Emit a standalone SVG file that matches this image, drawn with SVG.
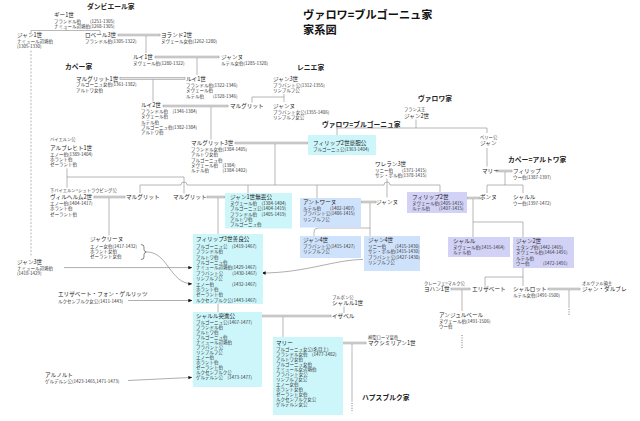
<svg xmlns="http://www.w3.org/2000/svg" width="640" height="421" viewBox="0 0 640 421">
<style>
text{font-family:"Noto Sans CJK JP","Noto Sans CJK SC",sans-serif;fill:#222}
.t{font-size:11.2px;font-weight:bold;fill:#111}
.h{font-size:6.8px;font-weight:bold;fill:#222}
.n{font-size:5.6px;fill:#1a1a1a}
.d{font-size:4.5px;fill:#333}
.s{font-size:4.3px;fill:#333}
.ln{fill:none;stroke:#888;stroke-width:0.6}
.dash{fill:none;stroke:#888;stroke-width:0.6;stroke-dasharray:2,1.5}
.dot{fill:none;stroke:#555;stroke-width:0.8;stroke-dasharray:1,1.4}
.dl{fill:#e4e4e4;stroke:#9a9a9a;stroke-width:0.6}
.ar{fill:none;stroke:#777;stroke-width:0.6;marker-end:url(#arr)}
.br{fill:none;stroke:#333;stroke-width:0.6}
.cy{fill:#ccf6fa}
.bl{fill:#cfe2fb}
.lv{fill:#d2d2f6}
</style>
<defs>
<marker id="arr" viewBox="0 0 6 6" refX="5.5" refY="3" markerWidth="4" markerHeight="4" markerUnits="userSpaceOnUse" orient="auto"><path d="M0,0.5 L6,3 L0,5.5z" fill="#111"/></marker>
</defs>
<rect width="640" height="421" fill="#fff"/>

<g id="title">
<text class="t" x="303" y="18.6">ヴァロワ=ブルゴーニュ家</text>
<text class="t" x="303" y="34">家系図</text>
</g>

<g id="houses">
<text class="h" x="87" y="8.6">ダンビエール家</text>
<text class="h" x="65" y="68.6">カペー家</text>
<text class="h" x="297" y="69.6">レニエ家</text>
<text class="h" x="418" y="100.6">ヴァロワ家</text>
<text class="h" x="322" y="126.6">ヴァロワ=ブルゴーニュ家</text>
<text class="h" x="508" y="161.6">カペー=アルトワ家</text>
<text class="h" x="362" y="399.6">ハプスブルク家</text>
</g>

<g id="connectors">
<rect class="dl" x="118" y="34.1" width="42" height="1.8"/>
<rect class="dl" x="155" y="56.1" width="64" height="1.8"/>
<rect class="dl" x="120" y="77.6" width="65" height="1.8"/>
<rect class="dl" x="163" y="105.1" width="65" height="1.8"/>
<rect class="dl" x="235" y="142.1" width="73" height="1.8"/>
<rect class="dl" x="94" y="196.1" width="31" height="1.8"/>
<rect class="dl" x="207" y="196.1" width="18" height="1.8"/>
<rect class="dl" x="361" y="201.1" width="15" height="1.8"/>
<rect class="dl" x="467" y="197.1" width="13" height="1.8"/>
<rect class="dl" x="496" y="170.1" width="16" height="1.8"/>
<rect class="dl" x="451" y="288.1" width="19" height="1.8"/>
<rect class="dl" x="548" y="288.1" width="32" height="1.8"/>
<rect class="dl" x="238" y="315.1" width="93" height="1.8"/>
<rect class="dl" x="295" y="342.1" width="71" height="1.8"/>
<path class="ln" d="M66,28.5 V30.5 M31,34 V30.5 H100 V34"/>
<path class="dash" d="M31,50.5 V257"/>
<path class="ln" d="M146,36 V53"/>
<path class="ln" d="M197,58 V75"/>
<path class="ln" d="M153,79.5 V101.5"/>
<path class="ln" d="M211,107 V139.5"/>
<path class="ln" d="M284,94 V102 M252,102.5 V97 H284"/>
<path class="ln" d="M416,119.5 V128 M337,135 V128 H487 V133"/>
<path class="ln" d="M275,144 V185"/>
<path class="ln" d="M140,193 V185 H181 a3,3 0 0 1 6,0 H384 a3,3 0 0 1 6,0 H440 V192"/>
<path class="ln" d="M248,185 V193 M317,185 V198"/>
<path class="ln" d="M67,168.5 V187.5 M67,177 H184 V193.5"/>
<path class="ln" d="M109,198 V235.5"/>
<path class="ln" d="M218,198 V234"/>
<path class="ln" d="M387,178.5 V197.5"/>
<path class="ln" d="M370,203 V236 M370,228 H318 Q314,228 314,232 V236"/>
<path class="ln" d="M473,199 V237 M473,222 H523 V237"/>
<path class="ln" d="M487,148 V166.5"/>
<path class="ln" d="M505,172 V185 M487,193 V185 H523 V193"/>
<path class="ln" d="M523,268 V277 H485 V286 M523,277 V286"/>
<path class="ln" d="M462,290 V311"/>
<path class="ln" d="M569,290 V308"/>
<path class="ln" d="M218,304 V312"/>
<path class="ln" d="M283,317 V337"/>
<path class="ln" d="M344,306.5 V313"/>
<path class="ln" d="M352,344 V402"/>
<path class="dot" d="M462,335 V349 M569,309 V316 M352,403 V411"/>
<path class="ar" d="M64,267.6 H192"/>
<path class="ar" d="M147,252 C168,252 170,283.8 192,283.8"/>
<path class="ar" d="M363,259.5 C335,259.5 305,273 262,273"/>
<path class="ar" d="M128,300.5 H192"/>
<path class="ar" d="M128,380.5 L192,377.4"/>
<path class="br" d="M141,244.5 q3,0 3,2.5 v2.5 q0,2 2.5,2.5 q-2.5,0.5 -2.5,2.5 v2.5 q0,2.5 -3,2.5"/>
<path class="br" d="M368,253 q-2,0 -2,2 v2.5 q0,1.5 -2,2 q2,0.5 2,2 v2.5 q0,2 2,2"/>
</g>

<g id="guy1">
<text class="n" x="54" y="17.1">ギー1世</text>
<text class="d" x="54" y="22.7">フランドル伯　　(1251-1305)</text>
<text class="d" x="54" y="27.9">ナミュール辺境伯(1268-1305)</text>
</g>
<g id="jean1-namur">
<text class="n" x="17" y="37.1">ジャン1世</text>
<text class="d" x="17" y="42.9">ナミュール辺境伯</text>
<text class="d" x="17" y="48.2">(1305-1330)</text>
</g>
<g id="robert3">
<text class="n" x="85" y="37.1">ロベール3世</text>
<text class="d" x="85" y="43.1">フランドル伯(1305-1322)</text>
</g>
<g id="yolande2">
<text class="n" x="161" y="37.1">ヨランド2世</text>
<text class="d" x="161" y="43.1">ヌヴェール女伯(1262-1280)</text>
</g>
<g id="louis1-nevers">
<text class="n" x="133" y="59.1">ルイ1世</text>
<text class="d" x="133" y="65">ヌヴェール伯(1280-1322)</text>
</g>
<g id="jeanne-rethel">
<text class="n" x="221" y="59.1">ジャンヌ</text>
<text class="d" x="221" y="65">ルテル女伯(1285-1328)</text>
</g>
<g id="louis1-flandre">
<text class="n" x="186" y="81.1">ルイ1世</text>
<text class="d" x="186" y="87">フランドル伯(1322-1346)</text>
<text class="d" x="186" y="92.3">ヌヴェール伯</text>
<text class="d" x="186" y="97.6">ルテル伯　　(1328-1346)</text>
</g>
<g id="marguerite1">
<text class="n" x="76" y="80.6">マルグリット1世</text>
<text class="d" x="76" y="86.4">ブルゴーニュ女伯(1361-1382)</text>
<text class="d" x="76" y="91.7">アルトワ女伯</text>
</g>
<g id="louis2">
<text class="n" x="141" y="107.1">ルイ2世</text>
<text class="d" x="141" y="112.9">フランドル伯　(1346-1384)</text>
<text class="d" x="141" y="118.2">ヌヴェール伯</text>
<text class="d" x="141" y="123.5">ルテル伯</text>
<text class="d" x="141" y="128.8">ブルゴーニュ伯(1382-1384)</text>
<text class="d" x="141" y="134.1">アルトワ伯</text>
</g>
<g id="marguerite-brabant">
<text class="n" x="230" y="108.1">マルグリット</text>
</g>
<g id="jean3-brabant">
<text class="n" x="273" y="81.1">ジャン3世</text>
<text class="d" x="273" y="87">ブラバント公(1312-1355)</text>
<text class="d" x="273" y="92.3">リンブルフ公</text>
</g>
<g id="jeanne-brabant">
<text class="n" x="273" y="108.1">ジャンヌ</text>
<text class="d" x="273" y="114">ブラバント女公(1355-1406)</text>
<text class="d" x="273" y="119.3">リンブルフ女公</text>
</g>
<g id="jean2-france">
<text class="s" x="404" y="110.6">フランス王</text>
<text class="n" x="404" y="118.1">ジャン2世</text>
</g>
<g id="philippe2">
<rect class="cy" x="308" y="135" width="68" height="20"/>
<text class="n" x="313" y="145.1">フィリップ2世豪胆公</text>
<text class="d" x="313" y="151">ブルゴーニュ公(1363-1404)</text>
</g>
<g id="marguerite3">
<text class="n" x="191" y="145.1">マルグリット3世</text>
<text class="d" x="191" y="151">フランドル女伯(1384-1405)</text>
<text class="d" x="191" y="156.3">アルトワ女伯</text>
<text class="d" x="191" y="161.6">ブルゴーニュ伯</text>
<text class="d" x="191" y="166.9">ヌヴェール伯　(1384)</text>
<text class="d" x="191" y="172.2">ルテル伯　　　(1384-1402)</text>
</g>
<g id="jean-berry">
<text class="s" x="480" y="138.6">ベリー公</text>
<text class="n" x="480" y="145.1">ジャン</text>
</g>
<g id="marie-berry">
<text class="n" x="482" y="173.1">マリー</text>
</g>
<g id="philippe-eu">
<text class="n" x="513" y="173.1">フィリップ</text>
<text class="d" x="513" y="179">ウー伯(1387-1397)</text>
</g>
<g id="waleran3">
<text class="n" x="375" y="166.1">ワレラン3世</text>
<text class="d" x="375" y="171.9">リニー伯　　(1371-1415)</text>
<text class="d" x="375" y="177.2">サン・ポル伯(1378-1415)</text>
</g>
<g id="albrecht1">
<text class="s" x="50" y="140.6">バイエルン公</text>
<text class="n" x="50" y="149.6">アルブレヒト1世</text>
<text class="d" x="50" y="155.7">エノー伯(1389-1404)</text>
<text class="d" x="50" y="161">ホラント伯</text>
<text class="d" x="50" y="166.3">ゼーラント伯</text>
</g>
<g id="wilhelm2">
<text class="s" x="50" y="191.6">下バイエルン=シュトラウビング公</text>
<text class="n" x="50" y="199.1">ヴィルヘルム2世</text>
<text class="d" x="50" y="204.9">エノー伯(1404-1417)</text>
<text class="d" x="50" y="210.2">ホラント伯</text>
<text class="d" x="50" y="215.5">ゼーラント伯</text>
</g>
<g id="marguerite-bourgogne">
<text class="n" x="126" y="199.1">マルグリット</text>
</g>
<g id="marguerite-baviere">
<text class="n" x="173" y="199.1">マルグリット</text>
</g>
<g id="jean1">
<rect class="cy" x="225" y="193" width="67" height="35.5"/>
<text class="n" x="230" y="199.1">ジャン1世無畏公</text>
<text class="d" x="230" y="204.9">ヌヴェール伯　(1384-1404)</text>
<text class="d" x="230" y="210.2">ブルゴーニュ公(1404-1419)</text>
<text class="d" x="230" y="215.5">フランドル伯　(1405-1419)</text>
<text class="d" x="230" y="220.8">アルトワ伯</text>
<text class="d" x="230" y="226.1">ブルゴーニュ伯</text>
</g>
<g id="antoine">
<rect class="bl" x="300" y="198" width="61" height="29.5"/>
<text class="n" x="303" y="204.1">アントワーヌ</text>
<text class="d" x="303" y="209.9">ルテル伯　　(1402-1407)</text>
<text class="d" x="303" y="215.2">ブラバント公(1406-1415)</text>
<text class="d" x="303" y="220.5">リンブルフ公</text>
</g>
<g id="jeanne-lux">
<text class="n" x="376" y="204.1">ジャンヌ</text>
</g>
<g id="philippe2-nevers">
<rect class="lv" x="407" y="192" width="60" height="21"/>
<text class="n" x="412" y="199.1">フィリップ2世</text>
<text class="d" x="412" y="204.9">ヌヴェール伯(1405-1415)</text>
<text class="d" x="412" y="210.2">ルテル伯　　(1407-1415)</text>
</g>
<g id="bonne">
<text class="n" x="480" y="199.1">ボンヌ</text>
</g>
<g id="charles-eu">
<text class="n" x="513" y="199.1">シャルル</text>
<text class="d" x="513" y="205">ウー伯(1397-1472)</text>
</g>
<g id="jean4-a">
<rect class="bl" x="300" y="236" width="61" height="22"/>
<text class="n" x="303" y="242.1">ジャン4世</text>
<text class="d" x="303" y="247.9">ブラバント公(1415-1427)</text>
<text class="d" x="303" y="253.2">リンブルフ公</text>
</g>
<g id="jean4-b">
<rect class="bl" x="364" y="236" width="56" height="35"/>
<text class="n" x="368" y="242.1">ジャン4世</text>
<text class="d" x="368" y="247.9">リニー伯　　(1415-1430)</text>
<text class="d" x="368" y="253.2">サン・ポル伯(1415-1430)</text>
<text class="d" x="368" y="258.5">ブラバント公(1427-1430)</text>
<text class="d" x="368" y="263.8">リンブルフ公</text>
</g>
<g id="charles-nevers">
<rect class="lv" x="448" y="237" width="62" height="20"/>
<text class="n" x="453" y="243.1">シャルル</text>
<text class="d" x="453" y="249">ヌヴェール伯(1415-1464)</text>
<text class="d" x="453" y="254.3">ルテル伯</text>
</g>
<g id="jean2-nevers">
<rect class="lv" x="513" y="237" width="61" height="31"/>
<text class="n" x="516" y="243.1">ジャン2世</text>
<text class="d" x="516" y="249">エタンプ伯(1442-1465)</text>
<text class="d" x="516" y="254.3">ヌヴェール伯(1464-1491)</text>
<text class="d" x="516" y="259.6">ルテル伯</text>
<text class="d" x="516" y="264.9">ウー伯　　　(1472-1491)</text>
</g>
<g id="jacqueline">
<text class="n" x="90" y="241.1">ジャクリーヌ</text>
<text class="d" x="90" y="247.7">エノー女伯(1417-1432)</text>
<text class="d" x="90" y="253">ホラント女伯</text>
<text class="d" x="90" y="258.3">ゼーラント女伯</text>
</g>
<g id="jean3-namur">
<text class="n" x="17" y="264.1">ジャン3世</text>
<text class="d" x="17" y="269.9">ナミュール辺境伯</text>
<text class="d" x="17" y="275.2">(1418-1429)</text>
</g>
<g id="philippe3">
<rect class="cy" x="193" y="234" width="70" height="70"/>
<text class="n" x="196" y="241.1">フィリップ3世善良公</text>
<text class="d" x="196" y="247.7">ブルゴーニュ公　(1419-1467)</text>
<text class="d" x="196" y="253.1">フランドル伯</text>
<text class="d" x="196" y="258.5">アルトワ伯</text>
<text class="d" x="196" y="263.9">ブルゴーニュ伯</text>
<text class="d" x="196" y="269.3">ナミュール辺境伯(1429-1467)</text>
<text class="d" x="196" y="274.7">ブラバント公　　(1430-1467)</text>
<text class="d" x="196" y="280.1">リンブルフ公</text>
<text class="d" x="196" y="285.5">エノー伯　　　　(1432-1467)</text>
<text class="d" x="196" y="290.9">ホラント伯</text>
<text class="d" x="196" y="296.3">ゼーラント伯</text>
<text class="d" x="196" y="301.7">ルクセンブルク公(1443-1467)</text>
</g>
<g id="elisabeth-goerlitz">
<text class="n" x="58" y="296.1">エリザベート・フォン・ゲルリッツ</text>
<text class="d" x="58" y="302.5">ルクセンブルク女公(1411-1443)</text>
</g>
<g id="arnold">
<text class="n" x="45" y="377.1">アルノルト</text>
<text class="d" x="45" y="382.9">ゲルデルン公(1423-1465,1471-1473)</text>
</g>
<g id="charles-temeraire">
<rect class="cy" x="193" y="312" width="69" height="75"/>
<text class="n" x="196" y="318.1">シャルル突進公</text>
<text class="d" x="196" y="324">ブルゴーニュ公(1467-1477)</text>
<text class="d" x="196" y="329">フランドル伯</text>
<text class="d" x="196" y="334">アルトワ伯</text>
<text class="d" x="196" y="339">ブルゴーニュ伯</text>
<text class="d" x="196" y="344">ナミュール辺境伯</text>
<text class="d" x="196" y="349">ブラバント公</text>
<text class="d" x="196" y="354">リンブルフ公</text>
<text class="d" x="196" y="359">エノー伯</text>
<text class="d" x="196" y="364">ホラント伯</text>
<text class="d" x="196" y="369">ゼーラント伯</text>
<text class="d" x="196" y="374">ルクセンブルク公</text>
<text class="d" x="196" y="379">ゲルデルン公　(1473-1477)</text>
</g>
<g id="charles1-bourbon">
<text class="s" x="332" y="298.6">ブルボン公</text>
<text class="n" x="332" y="305.1">シャルル1世</text>
</g>
<g id="isabelle">
<text class="n" x="332" y="318.1">イザベル</text>
</g>
<g id="marie">
<rect class="cy" x="273" y="337" width="70" height="78"/>
<text class="n" x="276" y="344.6">マリー</text>
<text class="d" x="276" y="350.6">ブルゴーニュ女公(名目上)</text>
<text class="d" x="276" y="355.6">フランドル女伯　(1477-1482)</text>
<text class="d" x="276" y="360.6">アルトワ女伯</text>
<text class="d" x="276" y="365.6">ブルゴーニュ女伯</text>
<text class="d" x="276" y="370.6">ナミュール女辺境伯</text>
<text class="d" x="276" y="375.6">ブラバント女公</text>
<text class="d" x="276" y="380.6">リンブルフ女公</text>
<text class="d" x="276" y="385.6">エノー女伯</text>
<text class="d" x="276" y="390.6">ホラント女伯</text>
<text class="d" x="276" y="395.6">ゼーラント女伯</text>
<text class="d" x="276" y="400.6">ルクセンブルク女公</text>
<text class="d" x="276" y="405.6">ゲルデルン女公</text>
</g>
<g id="maximilian1">
<text class="s" x="368" y="338.6">神聖ローマ皇帝</text>
<text class="n" x="368" y="345.1">マクシミリアン1世</text>
</g>
<g id="johann1-cleves">
<text class="s" x="424" y="284.6">クレーフェ=マルク公</text>
<text class="n" x="424" y="291.1">ヨハン1世</text>
</g>
<g id="elisabeth-nevers">
<text class="n" x="472" y="291.1">エリザベート</text>
</g>
<g id="charlotte">
<text class="n" x="513" y="291.1">シャルロット</text>
<text class="d" x="513" y="297">ルテル女伯(1491-1500)</text>
</g>
<g id="jean-albret">
<text class="s" x="582" y="284.6">オルヴァル領主</text>
<text class="n" x="582" y="291.1">ジャン・ダルブレ</text>
</g>
<g id="engelbert">
<text class="n" x="439" y="317.1">アンジュルベール</text>
<text class="d" x="439" y="323">ヌヴェール伯(1491-1506)</text>
<text class="d" x="439" y="328.3">ウー伯</text>
</g>
</svg>
